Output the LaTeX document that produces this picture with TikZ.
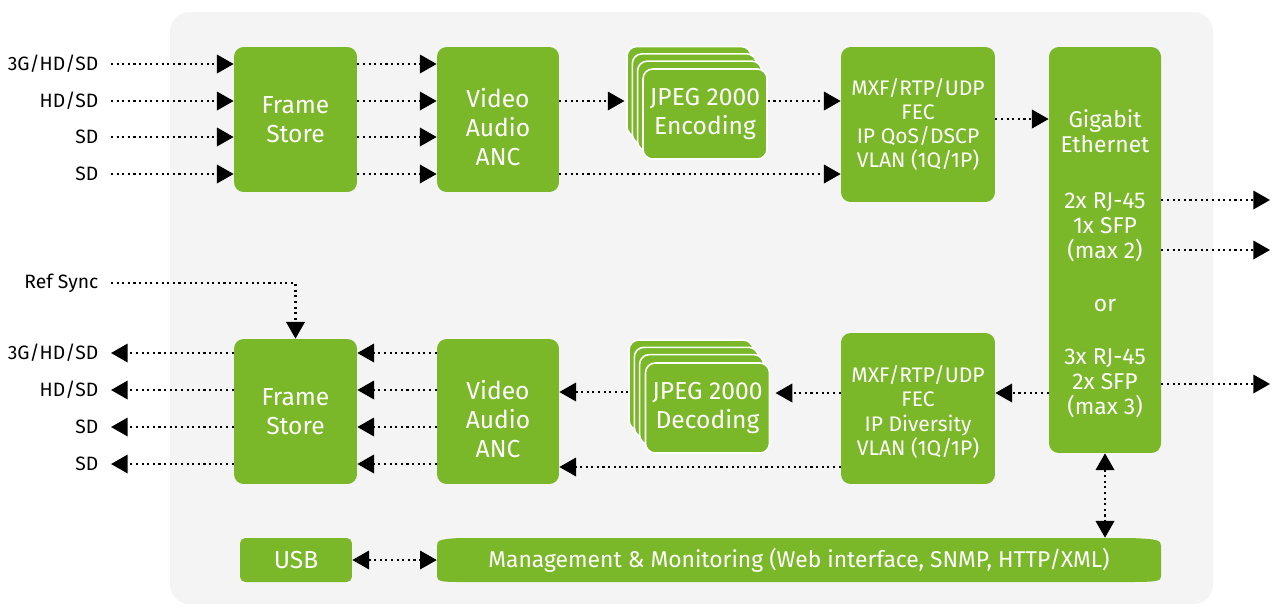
\documentclass[tikz,border=0pt]{standalone}
\usepackage{fontspec}
\setmainfont{Fira Sans}
\usetikzlibrary{arrows.meta}

\definecolor{nvgreen}{HTML}{7AB829}
\definecolor{bggray}{HTML}{F4F4F4}

\begin{document}
\begin{tikzpicture}[x=0.02cm, y=-0.02cm,
  blk/.style={fill=nvgreen, rounded corners=5.5pt, text=white, align=center, inner sep=0pt},
  bigtxt/.style={font=\fontsize{14}{16.5}\selectfont},
  smalltxt/.style={font=\fontsize{12}{13.8}\selectfont},
  boxtxt/.style={text=white, align=center, inner sep=0pt},
  stackbox/.style={blk, draw=white, line width=0.9pt, minimum width=2.48cm, minimum height=1.8cm},
  lbl/.style={font=\fontsize{11}{12}\selectfont, inner xsep=7pt, inner ysep=0pt},
  link/.style={dotted, line width=1.2pt, -{Triangle[length=9.5pt, width=10.5pt]}},
  link2/.style={dotted, line width=1.2pt, {Triangle[length=9.5pt, width=10.5pt]}-{Triangle[length=9.5pt, width=10.5pt]}}]

  \useasboundingbox (0,0) rectangle (1274,606);

  % Hintergrund
  \fill[bggray, rounded corners=11pt] (170,12) rectangle (1213,604);

  % Eingaenge / Ausgaenge
  \node[lbl, anchor=east] (in1) at (111,64) {3G/HD/SD};
  \node[lbl, anchor=east] (in2) at (111,101) {HD/SD};
  \node[lbl, anchor=east] (in3) at (111,137) {SD};
  \node[lbl, anchor=east] (in4) at (111,174) {SD};
  \node[lbl, anchor=east] (rs) at (111,283) {Ref Sync};
  \node[lbl, anchor=east] (out1) at (111,353) {3G/HD/SD};
  \node[lbl, anchor=east] (out2) at (111,390) {HD/SD};
  \node[lbl, anchor=east] (out3) at (111,427) {SD};
  \node[lbl, anchor=east] (out4) at (111,464) {SD};

  % Encoder-Zweig
  \node[blk, bigtxt, minimum width=2.46cm, minimum height=2.9cm] (FSt) at (295.5,119.5) {Frame\\Store};
  \node[blk, minimum width=2.44cm, minimum height=2.9cm] (VAt) at (498,119.5) {};
  \node[boxtxt, bigtxt] at (498,127) {Video\\Audio\\ANC};
  \foreach \i/\nm in {0/JEt3, 1/JEt2, 2/JEt1} {
    \node[stackbox] (\nm) at ({689+\i*5.3}, {91.5+\i*7.3}) {};
  }
  \node[stackbox, bigtxt] (JEt) at (705,114) {JPEG 2000\\Encoding};
  \node[blk, smalltxt, minimum width=3.08cm, minimum height=3.1cm] (MXt) at (918,124.5) {MXF/RTP/UDP\\FEC\\IP QoS/DSCP\\VLAN (1Q/1P)};

  % Gigabit Ethernet
  \node[blk, minimum width=2.24cm, minimum height=8.12cm] (GbE) at (1105,250) {};
  \node[boxtxt, font=\fontsize{13}{14.2}\selectfont] at (1105,264)
    {Gigabit\\Ethernet\\[17.5pt]2x RJ-45\\1x SFP\\(max 2)\\[16.4pt]or\\[16pt]3x RJ-45\\2x SFP\\(max 3)};

  % Decoder-Zweig
  \node[blk, bigtxt, minimum width=2.46cm, minimum height=2.9cm] (FSb) at (295.5,411.5) {Frame\\Store};
  \node[blk, minimum width=2.44cm, minimum height=2.9cm] (VAb) at (498,411.5) {};
  \node[boxtxt, bigtxt] at (498,419) {Video\\Audio\\ANC};
  \foreach \i/\nm in {0/JDb3, 1/JDb2, 2/JDb1} {
    \node[stackbox] (\nm) at ({691+\i*5.3}, {385+\i*7.3}) {};
  }
  \node[stackbox, bigtxt] (JDb) at (707.5,408) {JPEG 2000\\Decoding};
  \node[blk, minimum width=3.08cm, minimum height=3.02cm] (MXb) at (918,408.5) {};
  \node[boxtxt, smalltxt] at (918,412) {MXF/RTP/UDP\\FEC\\IP Diversity\\VLAN (1Q/1P)};

  % Management
  \node[blk, bigtxt, minimum width=2.24cm, minimum height=0.88cm, rounded corners=3pt] (USB) at (296,560) {USB};
  \fill[nvgreen] (437,546) .. controls (437,540) and (440,539) .. (460,538) -- (1130,538)
    .. controls (1158,539) and (1161,540) .. (1161,546) -- (1161,576)
    .. controls (1161,581) and (1158,582) .. (1130,582) -- (460,582)
    .. controls (440,582) and (437,581) .. (437,576) -- cycle;
  \node[inner sep=0pt, minimum width=14.48cm, minimum height=0.88cm, text=white,
    font=\fontsize{13}{15}\selectfont] (MgM) at (799,560) {Management \& Monitoring (Web interface, SNMP, HTTP/XML)};

  % freie Enden rechts
  \coordinate (g1) at (1270,200);
  \coordinate (g2) at (1270,250);
  \coordinate (g3) at (1270,384);

  % Verbindungen oben
  \foreach \n in {in1,in2,in3,in4} {
    \draw[link] (\n.east) -- (\n -| FSt.west);
    \draw[link] (FSt.east |- \n) -- (VAt.west |- \n);
  }
  \draw[link] (VAt.east |- in2) -- ([xshift=-1pt]JEt3.west |- in2);
  \draw[link] (JEt.east |- in2) -- (MXt.west |- in2);
  \draw[link] (VAt.east |- in4) -- (MXt.west |- in4);
  \draw[link] ([yshift=0.11cm]MXt.east) -- ([yshift=0.11cm]GbE.west |- MXt.east);
  \draw[link] (GbE.east |- g1) -- (g1);
  \draw[link] (GbE.east |- g2) -- (g2);
  \draw[link] (GbE.east |- g3) -- (g3);

  % Verbindungen unten
  \draw[link] (rs.east) -| (FSb.north);
  \foreach \n in {out1,out2,out3,out4} {
    \draw[link] (FSb.west |- \n) -- (\n.east);
    \draw[link] (VAb.west |- \n) -- (FSb.east |- \n);
  }
  \draw[link] (GbE.west |- 0,393) -- (MXb.east |- 0,393);
  \draw[link] (MXb.west |- 0,393) -- ([xshift=3pt]JDb.east |- 0,393);
  \draw[link] (JDb3.west |- 0,392) -- (VAb.east |- 0,392);
  \draw[link] (MXb.west |- 0,467) -- (VAb.east |- 0,467);

  % Management-Verbindungen
  \draw[link2] (USB.east) -- (MgM.west);
  \draw[link2] (GbE.south) -- (GbE.south |- MgM.north);

\end{tikzpicture}
\end{document}
